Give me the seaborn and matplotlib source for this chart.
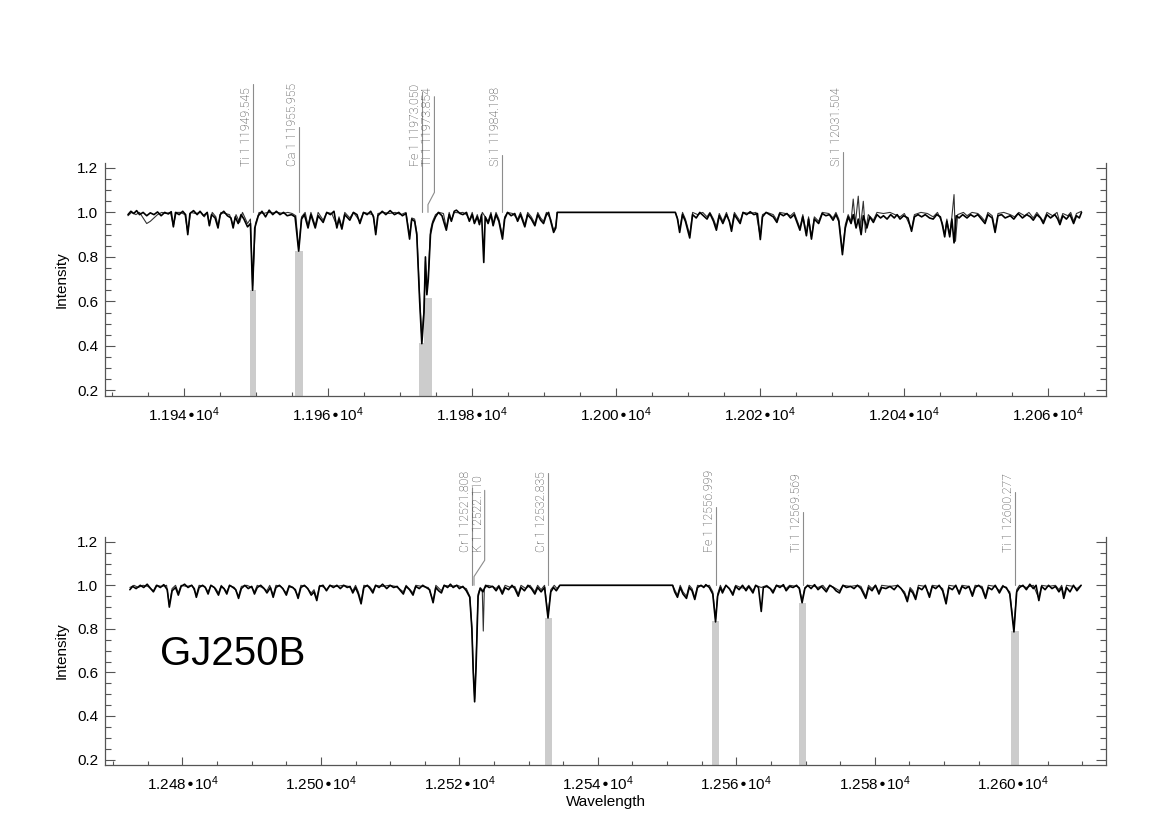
import numpy as np
import pandas as pd
import seaborn as sns
import matplotlib
matplotlib.use("Agg")
import matplotlib.pyplot as plt
from matplotlib.ticker import MultipleLocator, FuncFormatter

# spectrum vertices: (wavelength [A], intensity)
# top panel, thick black line
top_obs = [
    (11932.2, 0.99), (11932.6, 1.005), (11933.0, 0.995), (11933.4, 1.008), (11933.8, 0.99),
    (11934.3, 1.0), (11934.8, 0.985), (11935.3, 0.998), (11935.8, 0.99), (11936.3, 1.002),
    (11936.8, 0.985), (11937.3, 1.0), (11937.8, 0.993), (11938.2, 1.003), (11938.5, 0.935),
    (11938.8, 1.0), (11939.3, 0.99), (11939.8, 1.005), (11940.2, 0.99), (11940.5, 0.90),
    (11940.8, 0.995), (11941.3, 1.008), (11941.8, 0.99), (11942.2, 1.005), (11942.7, 0.985),
    (11943.2, 1.0), (11943.5, 0.94), (11943.8, 0.99), (11944.3, 0.975), (11944.7, 0.93),
    (11945.0, 0.99), (11945.5, 1.005), (11946.0, 0.985), (11946.5, 0.975), (11946.8, 0.93),
    (11947.1, 0.98), (11947.5, 0.95), (11947.9, 0.99), (11948.3, 0.97), (11948.8, 0.935),
    (11949.2, 0.95), (11949.5, 0.65), (11949.8, 0.93), (11950.3, 0.985), (11950.8, 1.005),
    (11951.3, 0.98), (11951.8, 1.01), (11952.3, 0.99), (11952.8, 1.005), (11953.3, 0.99),
    (11953.8, 1.0), (11954.3, 0.985), (11954.9, 0.99), (11955.4, 0.98), (11955.9, 0.826),
    (11956.3, 0.97), (11956.7, 0.99), (11957.2, 0.93), (11957.6, 0.99), (11958.2, 0.93),
    (11958.6, 0.985), (11959.3, 0.955), (11959.8, 1.0), (11960.3, 0.99), (11960.8, 1.005),
    (11961.2, 0.93), (11961.5, 0.97), (11961.9, 0.925), (11962.3, 0.99), (11963.0, 0.965),
    (11963.5, 1.0), (11964.0, 0.99), (11964.4, 0.95), (11964.9, 1.0), (11965.4, 0.99),
    (11965.9, 1.005), (11966.3, 0.98), (11966.6, 0.90), (11966.9, 0.985), (11967.5, 1.005),
    (11968.0, 0.99), (11968.6, 1.008), (11969.2, 0.99), (11969.8, 1.0), (11970.3, 0.985),
    (11970.8, 0.995), (11971.3, 0.88), (11971.6, 0.97), (11972.0, 0.96), (11972.3, 0.90),
    (11972.7, 0.60), (11973.0, 0.41), (11973.3, 0.55), (11973.5, 0.80), (11973.7, 0.63),
    (11973.9, 0.70), (11974.2, 0.90), (11974.5, 0.95), (11974.9, 0.98), (11975.3, 1.0),
    (11975.8, 0.985), (11976.4, 0.92), (11976.8, 0.99), (11977.1, 0.96), (11977.5, 1.005),
    (11977.8, 1.01), (11978.3, 0.995), (11978.7, 0.99), (11979.2, 1.0), (11979.6, 0.96),
    (11980.0, 0.99), (11980.3, 0.95), (11980.7, 0.98), (11981.0, 0.945), (11981.3, 0.99),
    (11981.6, 0.775), (11981.8, 0.98), (11982.2, 0.95), (11982.6, 0.99), (11982.9, 0.94),
    (11983.3, 0.99), (11983.7, 0.96), (11984.2, 0.88), (11984.5, 0.97), (11984.9, 1.0),
    (11985.4, 0.985), (11985.9, 0.995), (11986.3, 0.96), (11986.7, 0.99), (11987.3, 0.935),
    (11987.7, 0.99), (11988.2, 0.97), (11988.7, 0.94), (11989.1, 0.99), (11989.5, 0.965),
    (11989.9, 0.95), (11990.3, 0.99), (11990.6, 1.0), (11990.9, 0.96), (11991.3, 0.91),
    (11991.6, 0.93), (11991.8, 1.0), (12008.2, 1.0), (12008.5, 0.97), (12008.8, 0.91),
    (12009.2, 0.99), (12009.6, 0.96), (12010.2, 0.885), (12010.6, 0.99), (12011.1, 0.975),
    (12011.6, 1.0), (12012.1, 0.985), (12012.6, 0.97), (12013.0, 0.995), (12013.5, 0.96),
    (12013.9, 0.92), (12014.3, 0.985), (12014.8, 0.95), (12015.3, 0.99), (12015.7, 0.96),
    (12016.0, 0.915), (12016.4, 0.99), (12016.8, 0.97), (12017.2, 0.95), (12017.6, 1.0),
    (12018.1, 0.99), (12018.6, 1.003), (12019.1, 0.99), (12019.6, 0.995), (12020.0, 0.878),
    (12020.3, 0.98), (12020.8, 1.0), (12021.3, 0.99), (12021.8, 0.98), (12022.3, 0.955),
    (12022.7, 0.995), (12023.2, 0.985), (12023.7, 0.995), (12024.2, 0.975), (12024.7, 0.99),
    (12025.1, 0.955), (12025.5, 0.92), (12025.9, 0.98), (12026.4, 0.895), (12026.7, 0.97),
    (12027.1, 0.88), (12027.5, 0.97), (12028.1, 0.95), (12028.6, 0.995), (12029.1, 0.985),
    (12029.6, 0.99), (12030.1, 0.965), (12030.5, 0.99), (12030.9, 0.96), (12031.4, 0.81),
    (12031.8, 0.93), (12032.2, 0.98), (12032.6, 0.95), (12032.9, 0.99), (12033.3, 0.93),
    (12033.6, 0.97), (12034.0, 0.90), (12034.3, 0.985), (12034.8, 0.93), (12035.2, 0.98),
    (12035.7, 0.955), (12036.2, 0.99), (12036.7, 0.975), (12037.1, 0.985), (12037.6, 0.97),
    (12038.1, 0.99), (12038.6, 0.975), (12039.0, 0.99), (12039.4, 0.97), (12039.9, 0.985),
    (12040.5, 0.975), (12041.0, 0.915), (12041.4, 0.98), (12041.9, 0.99), (12042.4, 0.98),
    (12042.9, 0.99), (12043.5, 0.975), (12044.0, 0.97), (12044.5, 0.99), (12045.0, 0.98),
    (12045.3, 0.94), (12045.6, 0.89), (12045.9, 0.96), (12046.3, 0.89), (12046.6, 0.97),
    (12046.9, 0.863), (12047.2, 0.985), (12047.6, 0.975), (12048.1, 0.99), (12048.7, 0.975),
    (12049.2, 0.99), (12049.7, 0.98), (12050.2, 0.99), (12050.7, 0.97), (12051.2, 0.95),
    (12051.6, 0.99), (12052.2, 0.975), (12052.6, 0.91), (12053.0, 0.985), (12053.5, 0.99),
    (12054.0, 0.975), (12054.7, 0.985), (12055.2, 0.97), (12055.8, 0.995), (12056.4, 0.975),
    (12057.0, 0.99), (12057.5, 0.98), (12057.9, 0.965), (12058.4, 0.99), (12058.9, 0.975),
    (12059.3, 0.95), (12059.8, 0.99), (12060.3, 0.975), (12060.9, 0.99), (12061.3, 0.97),
    (12061.6, 0.945), (12062.0, 0.985), (12062.5, 0.97), (12063.0, 0.99), (12063.5, 0.95),
    (12063.9, 0.985), (12064.3, 0.975), (12064.6, 1.0),
]

# top panel, thin line
top_mod = [
    (11932.2, 0.985), (11932.7, 1.0), (11933.3, 0.99), (11933.8, 1.0), (11934.3, 0.975),
    (11934.8, 0.95), (11935.3, 0.96), (11935.8, 0.975), (11936.3, 0.99), (11936.9, 1.0),
    (11937.5, 0.995), (11938.1, 1.0), (11938.5, 0.94), (11938.9, 1.0), (11939.5, 1.0),
    (11940.1, 0.99), (11940.5, 0.91), (11940.9, 1.0), (11941.6, 0.995), (11942.3, 1.0),
    (11942.8, 0.98), (11943.2, 1.0), (11943.5, 0.945), (11943.9, 1.0), (11944.4, 0.98),
    (11944.7, 0.94), (11945.1, 1.0), (11945.7, 0.995), (11946.3, 0.99), (11946.8, 0.94),
    (11947.2, 0.99), (11947.7, 0.955), (11948.1, 1.0), (11948.8, 0.95), (11949.2, 0.97),
    (11949.5, 0.67), (11949.9, 0.95), (11950.4, 1.0), (11951.0, 0.995), (11951.6, 1.0),
    (11952.3, 0.998), (11953.0, 1.0), (11953.7, 0.995), (11954.4, 1.0), (11955.0, 0.995),
    (11955.5, 0.985), (11955.9, 0.835), (11956.3, 0.98), (11956.8, 1.0), (11957.2, 0.94),
    (11957.6, 1.0), (11958.2, 0.94), (11958.6, 1.0), (11959.3, 0.965), (11959.8, 1.0),
    (11960.5, 0.995), (11961.2, 0.94), (11961.5, 0.98), (11961.9, 0.935), (11962.3, 1.0),
    (11963.0, 0.975), (11963.5, 1.0), (11964.4, 0.96), (11964.9, 1.0), (11965.6, 0.995),
    (11966.2, 0.99), (11966.6, 0.91), (11966.9, 0.995), (11967.7, 1.0), (11968.5, 0.995),
    (11969.3, 1.0), (11970.1, 0.99), (11970.8, 1.0), (11971.3, 0.895), (11971.6, 0.975),
    (11972.0, 0.97), (11972.3, 0.91), (11972.7, 0.62), (11973.0, 0.43), (11973.3, 0.57),
    (11973.5, 0.78), (11973.7, 0.65), (11973.9, 0.72), (11974.2, 0.92), (11974.5, 0.96),
    (11974.9, 0.99), (11975.4, 1.0), (11976.0, 0.995), (11976.4, 0.93), (11976.8, 1.0),
    (11977.1, 0.965), (11977.5, 1.0), (11978.2, 0.998), (11978.7, 1.0), (11979.2, 0.99),
    (11979.6, 0.965), (11980.0, 1.0), (11980.3, 0.955), (11980.7, 0.99), (11981.0, 0.955),
    (11981.4, 1.0), (11982.2, 0.96), (11982.6, 1.0), (11982.9, 0.95), (11983.3, 1.0),
    (11983.7, 0.97), (11984.2, 0.895), (11984.5, 0.98), (11984.9, 1.0), (11985.6, 0.995),
    (11986.3, 0.97), (11986.7, 1.0), (11987.3, 0.945), (11987.7, 1.0), (11988.2, 0.98),
    (11988.7, 0.95), (11989.1, 1.0), (11989.5, 0.975), (11989.9, 0.96), (11990.3, 1.0),
    (11990.9, 0.97), (11991.3, 0.92), (11991.6, 0.94), (11991.8, 1.0), (12008.2, 1.0),
    (12008.5, 0.975), (12008.8, 0.92), (12009.2, 1.0), (12009.6, 0.97), (12010.2, 0.90),
    (12010.6, 1.0), (12011.3, 0.99), (12012.0, 1.0), (12012.6, 0.98), (12013.0, 1.0),
    (12013.5, 0.97), (12013.9, 0.935), (12014.3, 0.995), (12014.8, 0.96), (12015.3, 1.0),
    (12016.0, 0.93), (12016.4, 1.0), (12017.2, 0.96), (12017.6, 1.0), (12018.5, 0.995),
    (12019.4, 1.0), (12020.0, 0.89), (12020.3, 0.99), (12020.9, 1.0), (12021.8, 0.99),
    (12022.3, 0.965), (12022.7, 1.0), (12023.5, 0.995), (12024.2, 0.985), (12024.7, 1.0),
    (12025.1, 0.965), (12025.5, 0.93), (12025.9, 0.99), (12026.4, 0.905), (12026.7, 0.98),
    (12027.1, 0.89), (12027.5, 0.98), (12028.1, 0.96), (12028.6, 1.0), (12029.5, 0.995),
    (12030.1, 0.975), (12030.5, 1.0), (12030.9, 0.97), (12031.4, 0.825), (12031.8, 0.945),
    (12032.2, 0.99), (12032.6, 0.96), (12032.9, 1.06), (12033.2, 0.95), (12033.6, 1.073),
    (12033.9, 0.93), (12034.3, 1.05), (12034.6, 0.91), (12035.0, 0.99), (12035.7, 0.965),
    (12036.2, 1.0), (12037.1, 0.995), (12038.0, 1.0), (12039.4, 0.98), (12040.0, 0.995),
    (12041.0, 0.925), (12041.4, 0.99), (12042.3, 1.0), (12043.2, 0.995), (12044.0, 0.98),
    (12044.6, 1.0), (12045.3, 0.95), (12045.6, 0.90), (12045.9, 0.97), (12046.3, 0.90),
    (12046.6, 0.98), (12046.9, 1.08), (12047.1, 0.87), (12047.4, 0.99), (12048.2, 1.0),
    (12048.7, 0.985), (12049.4, 1.0), (12050.2, 0.995), (12050.7, 0.98), (12051.2, 0.96),
    (12051.6, 1.0), (12052.2, 0.985), (12052.6, 0.92), (12053.0, 0.995), (12053.8, 1.0),
    (12054.7, 0.99), (12055.3, 0.98), (12055.9, 1.0), (12056.7, 0.985), (12057.3, 1.0),
    (12057.9, 0.975), (12058.4, 1.0), (12059.3, 0.96), (12059.8, 1.0), (12060.6, 0.985),
    (12061.2, 1.0), (12061.6, 0.955), (12062.0, 0.995), (12062.7, 0.985), (12063.1, 1.0),
    (12063.5, 0.96), (12063.9, 0.995), (12064.6, 1.005),
]

# bottom panel, thick black line
bot_obs = [
    (12472.4, 0.98), (12472.8, 0.995), (12473.3, 0.985), (12473.9, 1.0), (12474.4, 0.99),
    (12474.9, 1.005), (12475.4, 0.985), (12475.8, 0.97), (12476.3, 1.0), (12476.8, 0.99),
    (12477.3, 1.003), (12477.8, 0.98), (12478.1, 0.90), (12478.5, 0.975), (12479.0, 0.99),
    (12479.4, 0.955), (12479.8, 0.995), (12480.3, 1.005), (12480.8, 0.99), (12481.3, 1.0),
    (12481.7, 0.985), (12482.0, 0.945), (12482.4, 0.99), (12482.9, 1.0), (12483.3, 0.99),
    (12483.7, 0.96), (12484.1, 1.0), (12484.6, 0.99), (12485.2, 0.955), (12485.6, 0.995),
    (12486.0, 0.985), (12486.4, 0.96), (12486.8, 1.0), (12487.3, 0.99), (12487.7, 0.98),
    (12488.1, 0.94), (12488.5, 0.985), (12489.0, 1.0), (12489.5, 0.985), (12490.0, 0.995),
    (12490.4, 0.96), (12490.8, 0.99), (12491.3, 1.0), (12491.8, 0.985), (12492.2, 0.965),
    (12492.7, 0.99), (12493.1, 0.945), (12493.5, 0.99), (12494.0, 1.0), (12494.5, 0.985),
    (12495.0, 0.955), (12495.4, 0.995), (12495.9, 0.99), (12496.3, 0.98), (12496.7, 0.94),
    (12497.1, 0.99), (12497.6, 1.0), (12498.1, 0.985), (12498.6, 0.955), (12499.0, 0.97),
    (12499.4, 0.93), (12499.8, 0.995), (12500.3, 1.0), (12500.8, 0.975), (12501.3, 1.0),
    (12501.8, 0.99), (12502.3, 1.0), (12502.8, 0.985), (12503.3, 1.0), (12503.8, 0.99),
    (12504.2, 0.995), (12504.6, 0.965), (12505.0, 0.99), (12505.4, 0.96), (12505.8, 0.915),
    (12506.2, 0.99), (12506.7, 1.0), (12507.1, 0.985), (12507.5, 0.965), (12507.9, 1.0),
    (12508.4, 0.99), (12508.9, 1.005), (12509.5, 0.985), (12510.0, 1.0), (12510.5, 0.99),
    (12511.0, 0.995), (12511.5, 0.975), (12511.9, 0.96), (12512.3, 0.995), (12512.8, 0.98),
    (12513.3, 0.955), (12513.7, 0.995), (12514.2, 0.985), (12514.7, 1.0), (12515.2, 0.99),
    (12515.7, 0.98), (12516.2, 0.92), (12516.6, 0.99), (12517.0, 0.975), (12517.4, 0.965),
    (12517.8, 1.0), (12518.3, 0.99), (12518.7, 1.005), (12519.1, 0.99), (12519.6, 1.0),
    (12520.0, 0.985), (12520.5, 0.995), (12521.0, 0.975), (12521.5, 0.945), (12521.8, 0.80),
    (12522.0, 0.60), (12522.2, 0.465), (12522.4, 0.62), (12522.7, 0.95), (12523.0, 0.985),
    (12523.4, 0.97), (12523.8, 1.0), (12524.3, 0.99), (12524.8, 0.995), (12525.3, 0.975),
    (12525.7, 0.995), (12526.2, 0.96), (12526.6, 0.99), (12527.1, 0.98), (12527.6, 1.0),
    (12528.0, 0.985), (12528.5, 0.95), (12528.9, 0.99), (12529.4, 0.975), (12529.9, 1.0),
    (12530.4, 0.985), (12530.9, 0.96), (12531.3, 0.99), (12531.8, 0.97), (12532.3, 0.99),
    (12532.8, 0.85), (12533.2, 0.97), (12533.6, 0.99), (12534.0, 0.975), (12534.5, 1.0),
    (12550.8, 1.0), (12551.1, 0.97), (12551.5, 0.945), (12551.9, 0.99), (12552.3, 0.96),
    (12552.8, 0.94), (12553.2, 0.99), (12553.6, 0.975), (12554.0, 0.935), (12554.4, 0.99),
    (12554.9, 1.0), (12555.3, 0.99), (12555.6, 1.003), (12556.1, 0.99), (12556.6, 0.96),
    (12557.0, 0.832), (12557.3, 0.95), (12557.7, 0.99), (12558.0, 0.965), (12558.5, 1.0),
    (12559.0, 0.985), (12559.5, 0.955), (12559.9, 0.995), (12560.4, 0.98), (12560.9, 1.0),
    (12561.4, 0.975), (12561.8, 0.995), (12562.4, 0.965), (12562.8, 1.0), (12563.2, 0.99),
    (12563.6, 0.88), (12563.9, 0.99), (12564.4, 0.995), (12564.9, 0.985), (12565.3, 0.965),
    (12565.8, 1.0), (12566.3, 0.99), (12566.8, 1.003), (12567.2, 0.975), (12567.7, 0.995),
    (12568.2, 0.99), (12568.7, 1.0), (12569.1, 0.985), (12569.5, 0.92), (12569.9, 0.985),
    (12570.3, 1.0), (12570.8, 0.985), (12571.3, 1.003), (12571.8, 0.98), (12572.3, 0.995),
    (12573.0, 0.97), (12573.5, 1.0), (12574.0, 0.99), (12574.4, 0.975), (12574.9, 0.965),
    (12575.4, 1.0), (12575.9, 0.99), (12576.5, 0.995), (12577.0, 0.985), (12577.5, 1.0),
    (12578.0, 0.985), (12578.7, 0.94), (12579.1, 0.99), (12579.6, 0.975), (12580.1, 1.0),
    (12580.6, 0.96), (12581.0, 0.99), (12581.6, 0.985), (12582.2, 0.995), (12582.8, 0.98),
    (12583.3, 1.0), (12583.8, 0.985), (12584.3, 0.96), (12584.7, 0.925), (12585.1, 0.98),
    (12585.5, 0.965), (12585.9, 0.935), (12586.3, 0.99), (12586.8, 0.98), (12587.3, 1.0),
    (12587.9, 0.945), (12588.3, 0.995), (12588.8, 0.985), (12589.3, 1.0), (12589.8, 0.975),
    (12590.3, 0.915), (12590.7, 0.99), (12591.2, 0.98), (12591.7, 1.0), (12592.2, 0.96),
    (12592.6, 0.995), (12593.1, 0.985), (12593.6, 0.995), (12594.1, 0.95), (12594.5, 0.99),
    (12595.0, 1.0), (12595.5, 0.985), (12596.0, 0.94), (12596.4, 0.99), (12596.9, 0.98),
    (12597.4, 1.0), (12598.0, 0.965), (12598.5, 0.995), (12599.0, 0.99), (12599.5, 0.96),
    (12600.1, 0.786), (12600.5, 0.97), (12600.9, 0.99), (12601.4, 1.0), (12601.9, 0.98),
    (12602.4, 1.005), (12602.9, 0.985), (12603.3, 1.0), (12603.7, 0.93), (12604.1, 0.995),
    (12604.6, 0.98), (12605.1, 1.0), (12605.6, 0.985), (12606.1, 0.995), (12606.6, 0.97),
    (12607.0, 0.99), (12607.3, 0.94), (12607.7, 0.99), (12608.2, 0.97), (12608.7, 1.0),
    (12609.2, 0.975), (12609.8, 1.0),
]

# bottom panel, thin line
bot_mod = [
    (12472.4, 0.99), (12473.0, 1.0), (12473.6, 0.99), (12474.3, 1.0), (12475.0, 0.995),
    (12475.8, 0.975), (12476.2, 1.0), (12477.0, 0.995), (12477.7, 1.0), (12478.1, 0.91),
    (12478.5, 0.985), (12479.0, 1.0), (12479.4, 0.965), (12479.8, 1.0), (12480.6, 0.995),
    (12481.4, 1.0), (12482.0, 0.955), (12482.4, 1.0), (12483.2, 0.995), (12483.7, 0.97),
    (12484.1, 1.0), (12484.8, 0.985), (12485.2, 0.965), (12485.6, 1.0), (12486.4, 0.97),
    (12486.8, 1.0), (12487.5, 0.99), (12488.1, 0.95), (12488.5, 0.995), (12489.3, 1.0),
    (12490.0, 0.99), (12490.4, 0.97), (12490.8, 1.0), (12491.5, 0.99), (12492.2, 0.975),
    (12492.6, 1.0), (12493.1, 0.955), (12493.5, 1.0), (12494.2, 0.995), (12495.0, 0.965),
    (12495.4, 1.0), (12496.0, 0.99), (12496.7, 0.95), (12497.1, 1.0), (12497.8, 0.995),
    (12498.6, 0.965), (12499.0, 0.98), (12499.4, 0.94), (12499.8, 1.0), (12500.5, 0.99),
    (12500.8, 0.98), (12501.3, 1.0), (12502.3, 0.995), (12503.2, 1.0), (12504.0, 0.995),
    (12504.6, 0.975), (12505.0, 1.0), (12505.4, 0.97), (12505.8, 0.925), (12506.2, 1.0),
    (12507.0, 0.995), (12507.5, 0.975), (12507.9, 1.0), (12508.9, 0.995), (12509.9, 1.0),
    (12510.8, 0.995), (12511.5, 0.98), (12511.9, 0.97), (12512.3, 1.0), (12513.3, 0.965),
    (12513.7, 1.0), (12514.6, 0.995), (12515.5, 0.99), (12516.2, 0.93), (12516.6, 1.0),
    (12517.4, 0.975), (12517.8, 1.0), (12518.8, 0.995), (12519.7, 1.0), (12520.5, 0.99),
    (12521.0, 0.985), (12521.5, 0.95), (12521.8, 0.81), (12522.0, 0.62), (12522.2, 0.48),
    (12522.4, 0.64), (12522.7, 0.96), (12523.0, 0.99), (12523.3, 0.98), (12523.45, 0.79),
    (12523.6, 0.985), (12524.1, 1.0), (12524.8, 0.995), (12525.3, 0.985), (12525.7, 1.0),
    (12526.2, 0.97), (12526.6, 1.0), (12527.4, 0.99), (12528.0, 0.995), (12528.5, 0.96),
    (12528.9, 1.0), (12529.6, 0.985), (12530.2, 1.0), (12530.9, 0.97), (12531.3, 1.0),
    (12531.8, 0.98), (12532.3, 1.0), (12532.8, 0.86), (12533.2, 0.98), (12533.7, 1.0),
    (12534.1, 0.985), (12534.5, 1.0), (12550.8, 1.0), (12551.1, 0.98), (12551.5, 0.955),
    (12551.9, 1.0), (12552.3, 0.97), (12552.8, 0.95), (12553.2, 1.0), (12553.6, 0.985),
    (12554.0, 0.945), (12554.4, 1.0), (12555.3, 0.995), (12556.1, 1.0), (12556.6, 0.97),
    (12557.0, 0.845), (12557.3, 0.96), (12557.7, 1.0), (12558.0, 0.975), (12558.5, 1.0),
    (12559.5, 0.965), (12559.9, 1.0), (12560.6, 0.99), (12561.4, 0.985), (12561.8, 1.0),
    (12562.4, 0.975), (12562.8, 1.0), (12563.6, 0.99), (12564.4, 1.0), (12565.3, 0.975),
    (12565.8, 1.0), (12566.8, 0.995), (12567.2, 0.985), (12567.7, 1.0), (12568.7, 0.995),
    (12569.1, 0.99), (12569.5, 0.93), (12569.9, 0.99), (12570.5, 1.0), (12571.3, 0.995),
    (12571.8, 0.99), (12572.5, 1.0), (12573.0, 0.98), (12573.5, 1.0), (12574.4, 0.985),
    (12574.9, 0.975), (12575.4, 1.0), (12576.5, 0.995), (12577.5, 1.0), (12578.0, 0.995),
    (12578.7, 0.95), (12579.1, 1.0), (12579.6, 0.985), (12580.1, 1.0), (12580.6, 0.97),
    (12581.0, 1.0), (12582.2, 0.995), (12583.3, 1.0), (12584.3, 0.97), (12584.7, 0.935),
    (12585.1, 0.99), (12585.5, 0.975), (12585.9, 0.945), (12586.3, 1.0), (12587.3, 0.995),
    (12587.9, 0.955), (12588.3, 1.0), (12589.3, 0.995), (12589.8, 0.985), (12590.3, 0.925),
    (12590.7, 1.0), (12591.7, 0.995), (12592.2, 0.97), (12592.6, 1.0), (12593.6, 0.995),
    (12594.1, 0.96), (12594.5, 1.0), (12595.5, 0.995), (12596.0, 0.95), (12596.4, 1.0),
    (12597.4, 0.995), (12598.0, 0.975), (12598.5, 1.0), (12599.5, 0.97), (12600.1, 0.80),
    (12600.5, 0.98), (12600.9, 1.0), (12601.9, 0.99), (12602.9, 1.0), (12603.7, 0.94),
    (12604.1, 1.0), (12605.1, 0.995), (12606.1, 1.0), (12606.6, 0.98), (12607.0, 1.0),
    (12607.3, 0.95), (12607.7, 1.0), (12608.7, 0.995), (12609.2, 0.985), (12609.8, 1.0),
]

# line identifications: label, wavelength, label x, top of the marker
top_lines = [
    ("Ti 1 11949.545", 11949.545, 11949.545, 1.577),
    ("Ca 1 11955.955", 11955.955, 11955.955, 1.383),
    ("Fe 1 11973.050", 11973.050, 11973.050, 1.540),
    ("Ti 1 11973.854", 11973.854, 11974.75, 1.520),
    ("Si 1 11984.198", 11984.198, 11984.198, 1.257),
    ("Si 1 12031.504", 12031.504, 12031.504, 1.270),
]
bot_lines = [
    ("Cr 1 12521.808", 12521.808, 12521.808, 1.445),
    ("K 1 12522.110", 12522.110, 12523.65, 1.436),
    ("Cr 1 12532.835", 12532.835, 12532.835, 1.514),
    ("Fe 1 12556.999", 12556.999, 12556.999, 1.359),
    ("Ti 1 12569.569", 12569.569, 12569.569, 1.336),
    ("Ti 1 12600.277", 12600.277, 12600.277, 1.428),
]

# shaded fitting windows: centre, half width
top_bands = [(11949.545, 0.38), (11955.955, 0.5), (11973.05, 0.45), (11973.854, 0.5)]
bot_bands = [(12532.835, 0.5), (12556.999, 0.5), (12569.569, 0.45), (12600.277, 0.58)]

YLIM = (0.175, 1.222)

sns.set_theme(style="ticks")
plt.rcParams["font.family"] = ["Liberation Sans", "DejaVu Sans"]
plt.rcParams["mathtext.default"] = "regular"
plt.rcParams["text.color"] = "black"
plt.rcParams["axes.labelcolor"] = "black"


def wl_fmt(v, pos):
    return f"{v / 1e4:.3f}•10$^{{4}}$"


def draw_panel(ax, obs, mod, lines, bands, xlim, text_base, slant):
    o = pd.DataFrame(obs, columns=["wl", "flux"])
    m = pd.DataFrame(mod, columns=["wl", "flux"])
    for wl, hw in bands:
        xs = np.linspace(wl - hw, wl + hw, 60)
        top = min(np.interp(xs, o.wl, o.flux).min(), np.interp(xs, m.wl, m.flux).min())
        ax.fill_between([wl - hw, wl + hw], YLIM[0], top, color="#cccccc", lw=0, zorder=1)
    sns.lineplot(data=m, x="wl", y="flux", sort=False, estimator=None,
                 color="#333333", lw=0.8, ax=ax, zorder=3)
    sns.lineplot(data=o, x="wl", y="flux", sort=False, estimator=None,
                 color="black", lw=1.2, ax=ax, zorder=4)
    for name, wl, xlab, ytop in lines:
        if xlab == wl:
            xs, ys = [wl, wl], [1.0, ytop]
        else:
            xs, ys = [wl, wl, xlab, xlab], [1.0, slant[0], slant[1], ytop]
        ax.plot(xs, ys, color="#8c8c8c", lw=0.8, clip_on=False, zorder=2)
        ax.text(xlab, text_base, name, rotation=90, ha="right", va="bottom",
                fontsize=8.8, color="#333333", family=["Roboto", "DejaVu Sans"],
                fontweight="light")

    ax.set_xlim(xlim)
    ax.set_ylim(YLIM)
    ax.xaxis.set_major_locator(MultipleLocator(20))
    ax.xaxis.set_minor_locator(MultipleLocator(5))
    ax.yaxis.set_major_locator(MultipleLocator(0.2))
    ax.yaxis.set_minor_locator(MultipleLocator(0.05))
    ax.xaxis.set_major_formatter(FuncFormatter(wl_fmt))
    ax.yaxis.set_major_formatter(FuncFormatter(lambda v, p: f"{v:.1f}"))
    ax.tick_params(axis="both", which="both", direction="in", colors="#555555",
                   labelcolor="black", labelsize=11, width=0.8)
    ax.tick_params(axis="y", which="both", left=True, right=True)
    ax.tick_params(axis="y", which="major", length=7, pad=5)
    ax.tick_params(axis="y", which="minor", length=4)
    ax.tick_params(axis="x", which="major", length=6, pad=7, top=False)
    ax.tick_params(axis="x", which="minor", length=3, top=False)
    ax.spines["top"].set_visible(False)
    for s in ["left", "right", "bottom"]:
        ax.spines[s].set_color("#555555")
        ax.spines[s].set_linewidth(0.9)
    ax.set_xlabel("")
    ax.set_ylabel("Intensity", fontsize=11, labelpad=6)


fig = plt.figure(figsize=(11.7, 8.27), dpi=100)
ax1 = fig.add_axes([0.0897, 0.5212, 0.8556, 0.2817])
ax2 = fig.add_axes([0.0897, 0.075, 0.8556, 0.2757])

draw_panel(ax1, top_obs, top_mod, top_lines, top_bands, (11929.0, 12068.0), 1.207, (1.035, 1.09))
draw_panel(ax2, bot_obs, bot_mod, bot_lines, bot_bands, (12468.8, 12613.4), 1.151, (1.04, 1.115))

ax2.set_xlabel("Wavelength", fontsize=11, labelpad=1)
ax2.text(0.055, 0.437, "GJ250B", transform=ax2.transAxes, fontsize=29,
         color="black", ha="left", va="baseline")

fig.savefig("out.png", dpi=100)
